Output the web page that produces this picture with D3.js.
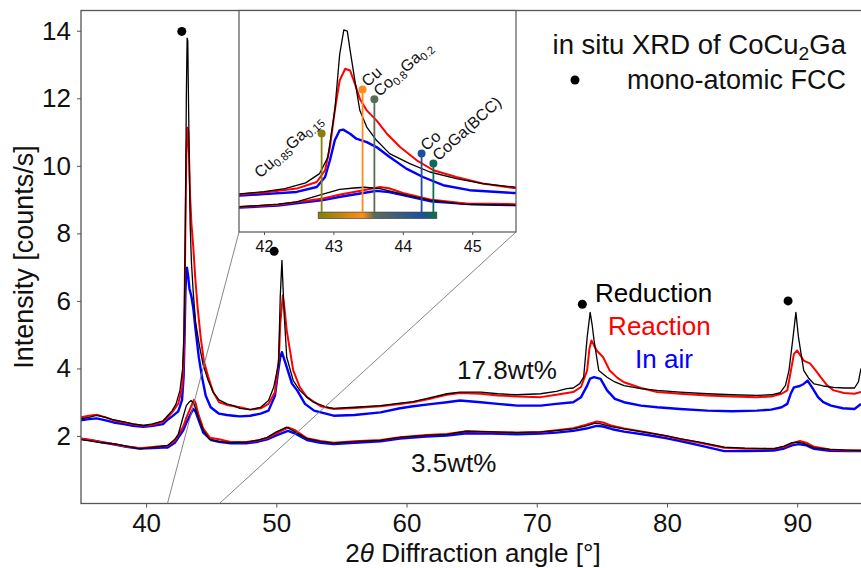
<!DOCTYPE html>
<html>
<head>
<meta charset="utf-8">
<script src="https://cdn.jsdelivr.net/npm/d3@7"></script>
<style>
  body { margin: 0; background: #fff; }
  svg { display: block; font-family: "Liberation Sans", Arial, sans-serif; }
</style>
</head>
<body>
<div id="chart"></div>
<script>
// ---- data: [2theta (deg), intensity (counts/s)] ----
const reduction178 = [[35.0,2.51],[35.6,2.55],[36.2,2.61],[36.9,2.55],[37.5,2.48],[38.3,2.42],[39.0,2.36],[39.8,2.31],[40.5,2.36],[41.3,2.45],[41.65,2.6],[42.0,2.75],[42.3,2.95],[42.6,3.35],[42.8,3.98],[42.92,5.1],[43.02,8.3],[43.09,12.1],[43.15,13.78],[43.2,13.7],[43.24,12.4],[43.31,10.3],[43.38,8.3],[43.48,7.15],[43.62,6.25],[43.81,5.34],[44.1,4.66],[44.39,4.09],[44.77,3.64],[45.15,3.3],[45.6,3.07],[46.2,2.95],[46.7,2.9],[47.2,2.82],[48.0,2.78],[48.8,2.85],[49.4,3.05],[49.8,3.44],[50.17,4.14],[50.3,6.11],[50.43,7.2],[50.6,5.62],[50.8,4.33],[51.3,3.64],[51.8,3.35],[52.35,3.15],[52.85,3.0],[53.9,2.85],[54.4,2.82],[56.0,2.85],[58.0,2.9],[59.5,2.97],[60.5,3.02],[62.0,3.15],[63.1,3.25],[64.1,3.3],[65.7,3.3],[67.0,3.25],[68.5,3.22],[70.3,3.25],[71.5,3.32],[72.3,3.4],[72.8,3.42],[73.3,3.55],[73.6,3.74],[73.87,4.92],[74.1,5.66],[74.25,5.3],[74.4,4.83],[74.76,3.94],[75.4,3.74],[76.0,3.6],[76.7,3.49],[78.0,3.4],[79.25,3.35],[81.0,3.3],[83.1,3.25],[85.0,3.22],[86.9,3.2],[88.0,3.22],[88.7,3.28],[89.1,3.5],[89.37,3.94],[89.68,4.92],[89.9,5.66],[90.1,4.92],[90.5,3.94],[90.9,3.7],[91.3,3.54],[92.0,3.48],[92.8,3.44],[93.6,3.42],[94.4,3.42],[94.7,3.6],[94.9,4.0]];

const reaction178 = [[35.0,2.55],[35.6,2.6],[36.2,2.63],[36.9,2.55],[37.5,2.46],[38.3,2.4],[39.0,2.35],[39.8,2.3],[40.5,2.33],[41.3,2.42],[41.65,2.55],[42.0,2.7],[42.47,2.96],[42.76,3.41],[42.88,4.21],[42.95,5.79],[43.02,8.29],[43.09,10.33],[43.17,11.13],[43.24,11.01],[43.31,10.1],[43.38,9.09],[43.48,8.29],[43.62,7.61],[43.77,6.7],[43.96,5.79],[44.2,4.89],[44.44,4.21],[44.77,3.75],[45.15,3.3],[45.6,3.0],[46.2,2.92],[47.2,2.85],[48.0,2.78],[48.8,2.82],[49.4,2.95],[49.9,3.3],[50.2,4.3],[50.3,5.32],[50.5,6.16],[50.65,5.7],[50.8,5.12],[51.3,3.94],[51.8,3.45],[52.35,3.15],[53.4,2.88],[54.4,2.8],[56.0,2.83],[58.0,2.88],[59.5,2.95],[60.5,3.0],[62.0,3.12],[63.1,3.22],[64.1,3.27],[65.7,3.25],[67.0,3.2],[68.5,3.17],[70.3,3.15],[71.5,3.22],[72.8,3.3],[73.4,3.45],[73.87,3.94],[74.05,4.6],[74.2,4.83],[74.6,4.53],[75.1,4.33],[75.6,3.94],[76.2,3.72],[76.7,3.59],[78.0,3.42],[79.25,3.3],[81.0,3.25],[83.1,3.2],[85.0,3.17],[86.9,3.15],[88.0,3.17],[88.8,3.25],[89.24,3.35],[89.5,3.9],[89.75,4.43],[90.0,4.53],[90.5,4.23],[91.0,4.14],[91.4,3.95],[91.8,3.74],[92.3,3.5],[92.8,3.35],[93.6,3.27],[94.4,3.25],[94.9,3.3]];

const air178 = [[35.0,2.46],[35.6,2.5],[36.2,2.52],[36.9,2.46],[37.5,2.4],[38.3,2.35],[39.0,2.3],[39.8,2.27],[40.5,2.3],[41.3,2.35],[41.65,2.48],[42.0,2.58],[42.47,2.73],[42.76,3.07],[42.88,3.75],[42.95,4.89],[43.02,6.25],[43.09,6.93],[43.14,6.98],[43.24,6.7],[43.33,6.36],[43.48,6.13],[43.62,5.79],[43.81,5.11],[44.05,4.32],[44.29,3.75],[44.58,3.19],[44.96,2.85],[45.6,2.66],[46.2,2.62],[46.7,2.6],[47.2,2.58],[48.0,2.6],[48.8,2.66],[49.4,2.75],[49.9,3.2],[50.1,3.8],[50.3,4.33],[50.43,4.48],[50.8,4.04],[51.2,3.55],[51.6,3.35],[52.2,2.95],[52.9,2.75],[54.4,2.6],[56.0,2.62],[58.0,2.7],[59.5,2.82],[60.5,2.88],[62.0,2.95],[63.1,3.0],[64.1,3.05],[65.7,3.0],[67.0,2.95],[68.5,2.9],[70.3,2.9],[71.5,2.95],[72.8,3.0],[73.4,3.15],[73.87,3.49],[74.1,3.7],[74.4,3.74],[74.9,3.69],[75.4,3.35],[76.0,3.1],[76.7,3.0],[78.0,2.9],[79.25,2.85],[81.0,2.8],[83.1,2.75],[85.0,2.73],[86.9,2.75],[88.0,2.78],[88.8,2.85],[89.24,2.95],[89.5,3.25],[89.75,3.44],[90.2,3.48],[90.5,3.54],[90.8,3.64],[91.2,3.4],[91.6,3.15],[92.0,3.0],[92.6,2.9],[93.5,2.82],[94.4,2.8],[94.9,2.95]];

const reduction35 = [[35.0,1.89],[35.8,1.85],[36.5,1.8],[37.5,1.77],[38.5,1.7],[39.5,1.62],[40.5,1.66],[41.3,1.7],[41.65,1.72],[42.2,1.9],[42.47,2.05],[42.8,2.51],[43.09,2.9],[43.3,3.0],[43.45,3.05],[43.67,2.96],[44.05,2.51],[44.39,2.17],[44.87,1.9],[45.6,1.83],[46.5,1.8],[47.7,1.82],[48.6,1.88],[49.3,1.96],[50.0,2.12],[50.8,2.26],[51.3,2.15],[52.35,1.92],[53.4,1.84],[54.4,1.79],[56.0,1.83],[58.0,1.87],[59.5,1.96],[61.5,2.02],[63.1,2.05],[64.6,2.14],[66.5,2.12],[68.5,2.1],[70.3,2.12],[71.5,2.16],[72.8,2.21],[73.8,2.3],[74.5,2.38],[74.9,2.36],[75.8,2.27],[76.7,2.21],[78.5,2.1],[80.0,2.0],[81.0,1.92],[82.5,1.82],[84.4,1.67],[86.0,1.64],[88.2,1.62],[89.0,1.7],[89.6,1.8],[90.0,1.82],[90.5,1.78],[91.3,1.65],[92.5,1.6],[93.8,1.58],[94.9,1.57]];

const reaction35 = [[35.0,1.92],[35.8,1.88],[36.5,1.82],[37.5,1.76],[38.5,1.69],[39.5,1.64],[40.5,1.67],[41.3,1.7],[41.65,1.71],[42.2,1.85],[42.85,2.28],[43.1,2.55],[43.43,2.85],[43.67,3.07],[43.8,2.98],[44.0,2.66],[44.39,2.22],[44.9,1.95],[45.6,1.9],[46.5,1.82],[47.7,1.82],[48.6,1.87],[49.3,1.94],[50.0,2.08],[50.9,2.25],[51.4,2.18],[52.35,1.93],[53.4,1.85],[54.4,1.8],[56.0,1.84],[58.0,1.88],[59.5,1.96],[61.5,2.03],[63.1,2.06],[64.6,2.14],[66.5,2.12],[68.5,2.1],[70.3,2.12],[71.5,2.17],[72.8,2.23],[73.8,2.33],[74.6,2.43],[75.1,2.4],[75.8,2.3],[76.7,2.22],[78.5,2.1],[80.0,1.99],[81.0,1.9],[82.5,1.8],[84.4,1.65],[86.0,1.62],[88.2,1.62],[89.0,1.68],[89.6,1.78],[90.2,1.85],[90.7,1.8],[91.3,1.68],[92.5,1.6],[93.8,1.57],[94.9,1.57]];

const air35 = [[35.0,1.92],[35.8,1.87],[36.5,1.82],[37.5,1.75],[38.5,1.68],[39.5,1.63],[40.5,1.64],[41.3,1.66],[41.65,1.66],[42.2,1.8],[42.85,2.17],[43.1,2.4],[43.43,2.66],[43.62,2.8],[43.8,2.72],[44.0,2.51],[44.39,2.1],[45.0,1.88],[45.6,1.83],[46.5,1.78],[47.7,1.78],[48.6,1.83],[49.3,1.9],[50.0,2.02],[50.9,2.15],[51.4,2.08],[52.35,1.88],[53.4,1.8],[54.4,1.76],[56.0,1.8],[58.0,1.84],[59.5,1.92],[61.5,1.98],[63.1,2.01],[64.6,2.08],[66.5,2.07],[68.5,2.05],[70.3,2.07],[71.5,2.1],[72.8,2.15],[73.8,2.22],[74.6,2.3],[75.1,2.28],[75.8,2.2],[76.7,2.13],[78.5,2.03],[80.0,1.93],[81.0,1.85],[82.5,1.72],[84.4,1.55],[86.0,1.55],[88.2,1.57],[89.0,1.63],[89.6,1.72],[90.1,1.76],[90.7,1.72],[91.3,1.62],[92.5,1.56],[93.8,1.55],[94.9,1.55]];

// FCC peak markers (angle, intensity)
const fccMarks = [[42.74,13.98],[49.83,7.47],[73.5,5.9],[89.3,6.0]];

// reference phases in the inset: name parts, position (deg), stem height (counts/s)
const phaseNames = [
  [["Cu",0],["0.85",1],["Ga",0],["0.15",1]],
  [["Cu",0]],
  [["Co",0],["0.8",1],["Ga",0],["0.2",1]],
  [["Co",0]],
  [["CoGa(BCC)",0]]
];
const phasePos = [42.83, 43.42, 43.59, 44.27, 44.44];
const phaseHeight = [6.71, 9.71, 9.05, 5.35, 4.67];
const stemBase = 1.36;

const angleTicks = [40, 50, 60, 70, 80, 90];
const intensityTicks = [2, 4, 6, 8, 10, 12, 14];
const insetTicks = [42, 43, 44, 45];
const insetRange = [41.64, 45.63];

// ---- styles ----
const phaseColors = ["#8a7f0c", "#ff8c1a", "#5c6b58", "#1d4f9e", "#0f6b57"];
const seriesStyle = {
  air: {color: "#0000ff", width: 2.4},
  reaction: {color: "#ff0000", width: 2},
  reduction: {color: "#000000", width: 1.3}
};
const font = 26;

const width = 861, height = 568;
const svg = d3.select("#chart").append("svg")
  .attr("width", width).attr("height", height);

const x = d3.scaleLinear().domain([35, 94.9]).range([81, 861]);
const y = d3.scaleLinear().domain([0, 14.6]).range([503.5, 10.5]);
const xi = d3.scaleLinear().domain(insetRange).range([239, 516]);
const yi = d3.scaleLinear().domain([0, 15.1]).range([232, 10.5]);

const curves = [
  ["air", air178], ["air", air35],
  ["reaction", reaction178], ["reaction", reaction35],
  ["reduction", reduction178], ["reduction", reduction35]
];

// clip for main plot
svg.append("clipPath").attr("id", "mainClip").append("rect")
  .attr("x", 81).attr("y", 10.5).attr("width", 790).attr("height", 493);

const line = d3.line().x(d => x(d[0])).y(d => y(d[1]));
svg.append("g").attr("clip-path", "url(#mainClip)")
  .selectAll("path").data(curves).join("path")
  .attr("d", d => line(d[1]))
  .attr("fill", "none")
  .attr("stroke", d => seriesStyle[d[0]].color)
  .attr("stroke-width", d => seriesStyle[d[0]].width)
  .attr("stroke-linejoin", "round");

// FCC dots
svg.append("g").selectAll("circle").data(fccMarks).join("circle")
  .attr("cx", d => x(d[0])).attr("cy", d => y(d[1])).attr("r", 4.5).attr("fill", "#000");

// axes
const xAxis = svg.append("g").attr("transform", `translate(0,${y(0)})`)
  .call(d3.axisBottom(x).tickValues(angleTicks).tickSize(4).tickPadding(6).tickSizeOuter(0));
const yAxis = svg.append("g").attr("transform", `translate(${x(35)},0)`)
  .call(d3.axisLeft(y).tickValues(intensityTicks).tickSize(4).tickPadding(6).tickSizeOuter(0));
[xAxis, yAxis].forEach(a => {
  a.select(".domain").remove();
  a.selectAll("line").attr("stroke", "#555");
  a.selectAll("text").attr("font-size", font).attr("font-family", null).attr("fill", "#111");
});

// frame (right side lies outside the picture)
svg.append("rect").attr("x", x(35)).attr("y", y(14.6))
  .attr("width", 800).attr("height", y(0) - y(14.6))
  .attr("fill", "none").attr("stroke", "#555").attr("stroke-width", 1.3);

// axis titles
const xt = svg.append("text").attr("x", 473).attr("y", 562)
  .attr("text-anchor", "middle").attr("font-size", font).attr("fill", "#111");
xt.append("tspan").text("2");
xt.append("tspan").attr("font-style", "italic").text("θ");
xt.append("tspan").text(" Diffraction angle [°]");

svg.append("text").attr("transform", "translate(33,257) rotate(-90)")
  .attr("text-anchor", "middle").attr("font-size", 27).attr("fill", "#111")
  .text("Intensity [counts/s]");

// text with subscripts
function addParts(sel, parts, size) {
  let shift = 0;
  parts.forEach(([s, sub]) => {
    const target = sub ? size * 0.22 : 0;
    sel.append("tspan").attr("dy", target - shift)
      .attr("font-size", sub ? size * 0.7 : size).text(s);
    shift = target;
  });
}

// legend
const lg = svg.append("text").attr("x", 846).attr("y", 54)
  .attr("text-anchor", "end").attr("font-size", 27.5).attr("fill", "#111");
addParts(lg, [["in situ XRD of CoCu",0],["2",1],["Ga",0]], 27.5);
svg.append("circle").attr("cx", 575).attr("cy", 80).attr("r", 4.5).attr("fill", "#000");
svg.append("text").attr("x", 846).attr("y", 89).attr("text-anchor", "end")
  .attr("font-size", 27).attr("fill", "#111").text("mono-atomic FCC");

// curve annotations
const notes = [
  ["Reduction", 74.48, 5.98, "reduction"],
  ["Reaction", 75.48, 4.99, "reaction"],
  ["In air", 77.55, 4.01, "air"],
  ["17.8wt%", 63.88, 3.69, null],
  ["3.5wt%", 60.35, 0.93, null]
];
svg.append("g").selectAll("text").data(notes).join("text")
  .attr("x", d => x(d[1])).attr("y", d => y(d[2]))
  .attr("font-size", font)
  .attr("fill", d => d[3] ? seriesStyle[d[3]].color : "#111")
  .text(d => d[0]);

// ---- inset ----
const inset = svg.append("g");
inset.append("rect").attr("x", xi.range()[0]).attr("y", yi(15.1))
  .attr("width", xi.range()[1] - xi.range()[0]).attr("height", yi(0) - yi(15.1))
  .attr("fill", "#fff");

svg.append("clipPath").attr("id", "insetClip").append("rect")
  .attr("x", xi.range()[0]).attr("y", yi(15.1))
  .attr("width", xi.range()[1] - xi.range()[0]).attr("height", yi(0) - yi(15.1));

const lineI = d3.line().x(d => xi(d[0])).y(d => yi(d[1]));
inset.append("g").attr("clip-path", "url(#insetClip)")
  .selectAll("path").data(curves).join("path")
  .attr("d", d => lineI(d[1]))
  .attr("fill", "none")
  .attr("stroke", d => seriesStyle[d[0]].color)
  .attr("stroke-width", d => seriesStyle[d[0]].width)
  .attr("stroke-linejoin", "round");

// gradient bar under the stems
const barLo = phasePos[0] - 0.05, barHi = phasePos[phasePos.length - 1] + 0.05;
const grad = svg.append("defs").append("linearGradient").attr("id", "phaseGrad")
  .attr("gradientUnits", "userSpaceOnUse")
  .attr("x1", xi(barLo)).attr("x2", xi(barHi)).attr("y1", 0).attr("y2", 0);
phasePos.forEach((p, i) => {
  grad.append("stop").attr("offset", (p - barLo) / (barHi - barLo)).attr("stop-color", phaseColors[i]);
});
inset.append("rect").attr("x", xi(barLo)).attr("y", yi(stemBase))
  .attr("width", xi(barHi) - xi(barLo)).attr("height", 6.5)
  .attr("fill", "url(#phaseGrad)").attr("stroke", "#333").attr("stroke-width", 0.6);

const phases = phasePos.map((p, i) => ({pos: p, h: phaseHeight[i], name: phaseNames[i], color: phaseColors[i], i}));
inset.append("g").selectAll("line").data(phases).join("line")
  .attr("x1", d => xi(d.pos)).attr("x2", d => xi(d.pos))
  .attr("y1", d => yi(d.h)).attr("y2", yi(stemBase))
  .attr("stroke", d => d.color).attr("stroke-width", 1.8);
inset.append("g").selectAll("circle").data(phases).join("circle")
  .attr("cx", d => xi(d.pos)).attr("cy", d => yi(d.h)).attr("r", 4)
  .attr("fill", d => d.color);

phases.forEach(d => {
  const left = d.i === 0;
  const t = inset.append("text")
    .attr("transform", left
      ? `translate(${xi(d.pos) + 2},${yi(d.h) - 12}) rotate(-42)`
      : `translate(${xi(d.pos) + 5},${yi(d.h) - 2}) rotate(-42)`)
    .attr("text-anchor", left ? "end" : "start")
    .attr("font-size", 16).attr("fill", "#111");
  addParts(t, d.name, 16);
});

// inset frame and ticks
inset.append("rect").attr("x", xi.range()[0]).attr("y", yi(15.1))
  .attr("width", xi.range()[1] - xi.range()[0]).attr("height", yi(0) - yi(15.1))
  .attr("fill", "none").attr("stroke", "#555").attr("stroke-width", 1.2);
const ix = inset.append("g").attr("transform", `translate(0,${yi(0)})`)
  .call(d3.axisBottom(xi).tickValues(insetTicks).tickFormat(d3.format("d"))
    .tickSize(3).tickPadding(6).tickSizeOuter(0));
ix.select(".domain").remove();
ix.selectAll("line").attr("stroke", "#555");
ix.selectAll("text").attr("font-size", 16).attr("font-family", null).attr("fill", "#111");

// zoom connector lines
const connectors = insetRange.map(a => [[xi(a), yi(0)], [x(a), y(0)]]);
svg.append("g").selectAll("line").data(connectors).join("line")
  .attr("x1", d => d[0][0]).attr("y1", d => d[0][1])
  .attr("x2", d => d[1][0]).attr("y2", d => d[1][1])
  .attr("stroke", "#777").attr("stroke-width", 0.9);
</script>
</body>
</html>
